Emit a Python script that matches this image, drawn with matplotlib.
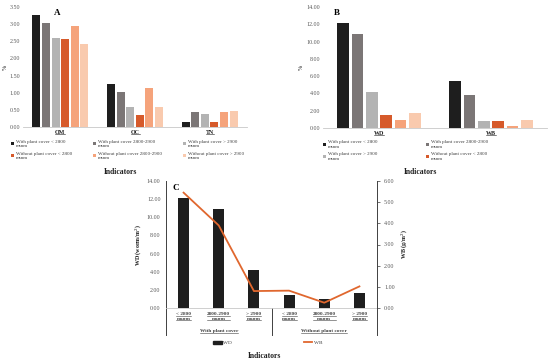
import matplotlib
matplotlib.use('Agg')
import matplotlib.pyplot as plt
from matplotlib.lines import Line2D
from matplotlib.patches import Patch
import numpy as np

plt.rcParams['font.family'] = ['Liberation Serif', 'DejaVu Serif']

# ---- data ----
series_labels = ['With plant cover < 2800\nmsnm', 'With plant cover 2800-2900\nmsnm',
                 'With plant cover > 2900\nmsnm', 'Without plant cover < 2800\nmsnm',
                 'Without plant cover 2800-2900\nmsnm', 'Without plant cover > 2900\nmsnm']
colors = ['#1e1e1e', '#7b7676', '#b3b3b3', '#d65a2b', '#f5a37b', '#f9caae']

cats_A = ['OM', 'OC', 'TN']
vals_A = [
    [3.28, 1.25, 0.16],
    [3.04, 1.02, 0.45],
    [2.59, 0.57, 0.38],
    [2.57, 0.34, 0.15],
    [2.94, 1.14, 0.45],
    [2.42, 0.57, 0.48],
]

cats_B = ['WD', 'WB']
vals_B = [
    [12.15, 5.43],
    [10.90, 3.85],
    [4.20, 0.78],
    [1.47, 0.82],
    [0.97, 0.27],
    [1.68, 0.98],
]

elev_labels = ['< 2800\nmsnm', '2800-2900\nmsnm', '> 2900\nmsnm',
               '< 2800\nmsnm', '2800-2900\nmsnm', '> 2900\nmsnm']
cover_groups = ['With plant cover', 'Without plant cover']
wd_C = [12.15, 10.90, 4.20, 1.47, 0.97, 1.68]
wb_C = [5.45, 3.90, 0.80, 0.82, 0.25, 1.02]

tick_col = '#595959'
fs = 4.3

fig = plt.figure(figsize=(5.5, 3.64), dpi=100)
W, H = 550.0, 364.0

def fax(x0, y0, x1, y1):
    # pixel box (top-left origin) -> axes
    return fig.add_axes([x0 / W, 1 - y1 / H, (x1 - x0) / W, (y1 - y0) / H])

def grouped(ax, cats, vals, ymax, step):
    x = np.arange(len(cats))
    slot = 0.128
    bw = 0.107
    for i, v in enumerate(vals):
        ax.bar(x + (i - 2.5) * slot, v, bw, color=colors[i], label=series_labels[i])
    ax.set_xlim(-0.5, len(cats) - 0.5)
    ax.set_ylim(0, ymax)
    ax.set_yticks(np.arange(0, ymax + 0.001, step))
    ax.yaxis.set_major_formatter(matplotlib.ticker.FormatStrFormatter('%.2f'))
    ax.set_xticks(x)
    ax.set_xticklabels(cats, fontweight='bold', fontsize=fs + 0.4)
    ax.tick_params(length=0, labelsize=fs, colors=tick_col, pad=2)
    for lab in ax.get_xticklabels():
        lab.set_color('#202020')
    for s in ['top', 'right', 'left']:
        ax.spines[s].set_visible(False)
    ax.spines['bottom'].set_color('#c8c8c8')
    ax.spines['bottom'].set_linewidth(0.6)

# ---- panel A ----
axA = fax(23, 7, 247, 127)
grouped(axA, cats_A, vals_A, 3.5, 0.5)
axA.set_ylabel('%', fontsize=fs, color='#202020', labelpad=1)
axA.text(0.14, 0.93, 'A', transform=axA.transAxes, fontsize=6.5, fontweight='bold')
h, l = axA.get_legend_handles_labels()
order = [0, 3, 1, 4, 2, 5]
fig.legend([h[i] for i in order], [l[i] for i in order], ncol=3,
           loc='upper left', bbox_to_anchor=(8 / W, 1 - 137 / H), frameon=False,
           fontsize=3.6, handlelength=0.6, handleheight=0.6, handletextpad=0.4,
           columnspacing=4.2, labelspacing=0.75, borderpad=0, labelcolor='#404040')
fig.text(120 / W, 1 - 172 / H, 'Indicators', ha='center', va='center',
         fontsize=5.5, fontweight='bold', color='#202020')

# ---- panel B ----
axB = fax(323, 7, 547, 128)
grouped(axB, cats_B, vals_B, 14, 2)
axB.set_ylabel('%', fontsize=fs, color='#202020', labelpad=2)
axB.text(0.05, 0.93, 'B', transform=axB.transAxes, fontsize=6.5, fontweight='bold')
h, l = axB.get_legend_handles_labels()
order = [0, 2, 1, 3]
fig.legend([h[i] for i in order], [l[i] for i in order], ncol=2,
           loc='upper left', bbox_to_anchor=(320 / W, 1 - 138 / H), frameon=False,
           fontsize=3.6, handlelength=0.6, handleheight=0.6, handletextpad=0.4,
           columnspacing=9.8, labelspacing=0.6, borderpad=0, labelcolor='#404040')
fig.text(420 / W, 1 - 172 / H, 'Indicators', ha='center', va='center',
         fontsize=5.5, fontweight='bold', color='#202020')

# ---- panel C ----
axC = fax(166, 181, 377, 308)
xc = np.arange(len(wd_C))
axC.bar(xc, wd_C, 0.31, color='#1e1e1e', label='WD')
axC.set_xlim(-0.5, len(wd_C) - 0.5)
axC.set_ylim(0, 14)
axC.set_yticks(np.arange(0, 14.01, 2))
axC.yaxis.set_major_formatter(matplotlib.ticker.FormatStrFormatter('%.2f'))
axC.set_xticks(xc)
axC.set_xticklabels(elev_labels, fontsize=3.8, fontweight='bold', color='#404040')
axC.tick_params(axis='x', length=0, pad=3)
axC.tick_params(axis='y', length=0, labelsize=fs, colors=tick_col, pad=4)
axC.set_ylabel('WD (worm/m$^2$)', fontsize=fs, fontweight='bold', color='#202020', labelpad=3)
axC.spines['top'].set_visible(False)
axC.spines['right'].set_visible(False)
axC.spines['left'].set_color('#404040')
axC.spines['left'].set_linewidth(0.7)
axC.spines['bottom'].set_color('#c8c8c8')
axC.spines['bottom'].set_linewidth(0.6)
axC.text(0.03, 0.93, 'C', transform=axC.transAxes, fontsize=6.5, fontweight='bold')

axC2 = axC.twinx()
axC2.plot(xc, wb_C, color='#e0672e', lw=1.3, label='WB')
axC2.set_ylim(0, 6)
axC2.set_yticks(np.arange(0, 6.01, 1))
axC2.yaxis.set_major_formatter(matplotlib.ticker.FormatStrFormatter('%.2f'))
axC2.tick_params(axis='y', length=2, width=0.6, labelsize=fs, colors=tick_col, pad=3)
axC2.set_ylabel('WB (g/m$^2$)', fontsize=fs, fontweight='bold', color='#202020', labelpad=3)
for s in ['top', 'left', 'bottom']:
    axC2.spines[s].set_visible(False)
axC2.spines['right'].set_color('#404040')
axC2.spines['right'].set_linewidth(0.7)

# multi-level category separators
ybot = -(335 - 308) / 127.0
for xs in [0, 0.5, 1]:
    axC.plot([xs, xs], [0, ybot], transform=axC.transAxes, color='#404040',
             lw=0.7, clip_on=False)
for k, g in enumerate(cover_groups):
    axC.text(0.25 + 0.5 * k, -(331 - 308) / 127.0, g, transform=axC.transAxes,
             ha='center', va='center', fontsize=3.8, fontweight='bold', color='#404040')

fig.legend([Patch(color='#1e1e1e'), Line2D([], [], color='#e0672e', lw=1.3)],
           ['WD', 'WB'], ncol=2, loc='center', bbox_to_anchor=(268 / W, 1 - 343 / H),
           frameon=False, fontsize=3.8, handlelength=1.6, handleheight=0.6,
           handletextpad=0.3, columnspacing=13.6, borderpad=0, labelcolor='#404040')
fig.text(264 / W, 1 - 356 / H, 'Indicators', ha='center', va='center',
         fontsize=5.5, fontweight='bold', color='#202020')

# underline category labels like the original
fig.canvas.draw()
renderer = fig.canvas.get_renderer()
inv = fig.transFigure.inverted()

def underline(txt, frac=(0.0,)):
    bb = txt.get_window_extent(renderer)
    for f in frac:
        yy = bb.y0 + f * bb.height
        (x0, y0), (x1, _) = inv.transform([[bb.x0, yy], [bb.x1, yy]])
        fig.add_artist(Line2D([x0, x1], [y0, y0], color=txt.get_color(), lw=0.4))

for lab in axA.get_xticklabels() + axB.get_xticklabels():
    underline(lab, (0.08,))
for lab in axC.get_xticklabels():
    underline(lab, (0.05, 0.55))
for t in axC.texts[1:]:
    underline(t, (0.08,))

fig.savefig('out.png', dpi=100)
